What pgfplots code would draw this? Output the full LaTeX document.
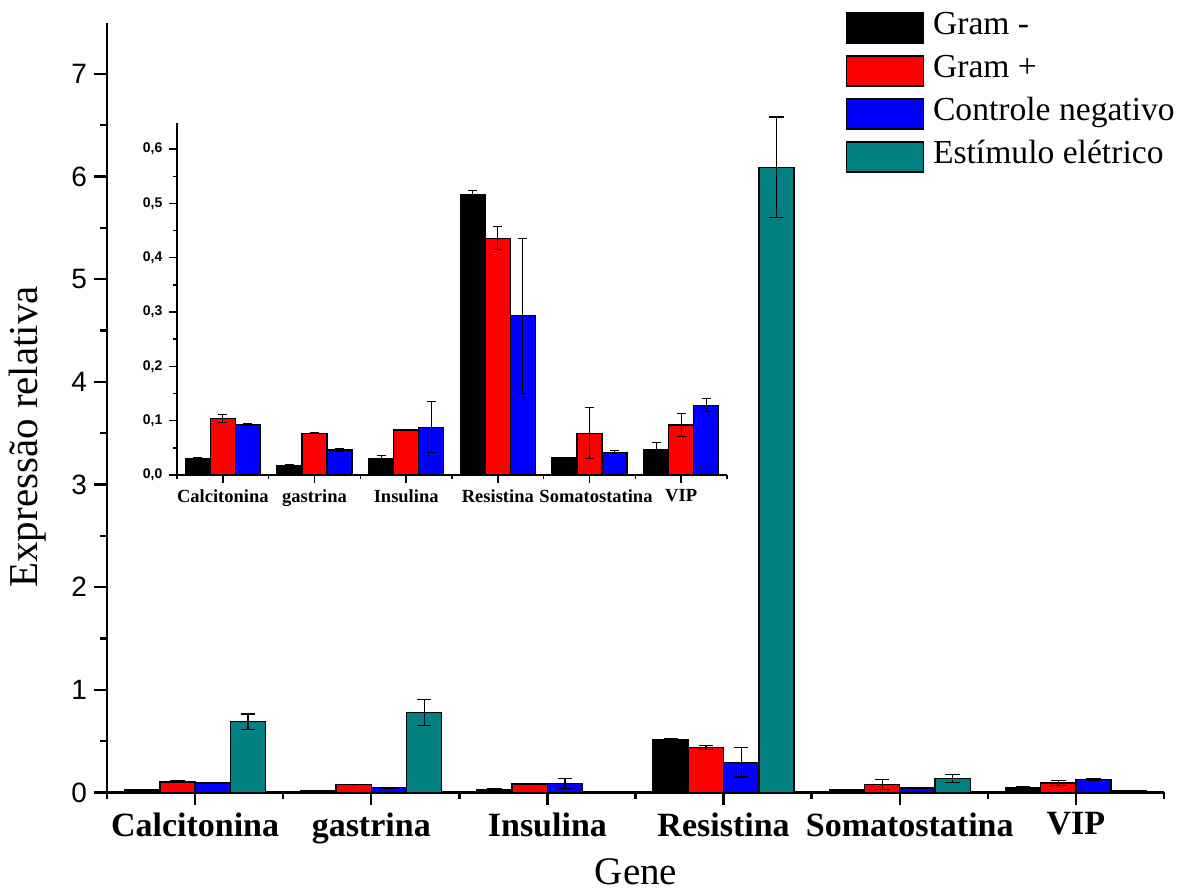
\documentclass[border=0pt]{standalone}
\usepackage{fontspec}
\setmainfont{Liberation Serif}
\newfontfamily\arial{Liberation Sans}
\usepackage{pgfplots}
\usepackage{pgfplotstable}
\pgfplotsset{compat=1.18}
\definecolor{tealE}{RGB}{0,128,128}
\pgfplotstableread{
x gn gne gp gpe cn cne es ese
0 0.030 0.002 0.104 0.007 0.093 0.002 0.690 0.075
1 0.018 0.001 0.077 0.001 0.046 0.002 0.780 0.125
2 0.031 0.005 0.083 0.001 0.088 0.047 0.010 0.000
3 0.516 0.008 0.436 0.021 0.293 0.143 6.090 0.490
4 0.032 0.001 0.077 0.047 0.042 0.003 0.134 0.040
5 0.047 0.012 0.092 0.021 0.128 0.012 0.015 0.000
}\data
\begin{document}
\begin{tikzpicture}
\useasboundingbox (-53.5pt,-49.75pt) rectangle (538pt,396.25pt);
\begin{axis}[
  at={(0,0)}, anchor=south west,
  scale only axis, width=528.5pt, height=385pt,
  xmin=-0.5, xmax=5.5, ymin=0, ymax=7.5,
  axis x line*=bottom, axis y line*=left,
  axis line style={line width=1.2pt},
  tick style={line width=1.2pt, black},
  tick align=outside,
  major tick length=6.5pt, minor tick length=3.5pt,
  xtick={0,...,5},
  xticklabels={Calcitonina,gastrina,Insulina,Resistina\hspace{3pt},\hspace{10pt}Somatostatina,VIP},
  minor xtick={-0.5,0.5,...,5.5},
  ytick={0,...,7}, minor y tick num=1,
  /pgf/number format/assume math mode=true,
  yticklabel style={font=\arial\fontsize{14}{14}\selectfont},
  xticklabel style={font=\bfseries\fontsize{17}{17}\selectfont},
  ylabel={Expressão relativa}, xlabel={Gene},
  ylabel style={at={(axis description cs:-0.0747,0.462)}, anchor=center, rotate=0, font=\fontsize{20.5}{20.5}\selectfont},
  xlabel style={at={(axis description cs:0.5005,-0.1025)}, anchor=center, font=\fontsize{19.5}{19.5}\selectfont},
  ybar, bar width=0.2,
  every axis plot/.append style={draw=black, line width=0.7pt},
  error bars/y dir=both, error bars/y explicit,
  error bars/error bar style={line width=0.6pt, black},
  error bars/error mark options={rotate=90, mark size=3.6pt, line width=0.6pt, black},
  legend image code/.code={\draw[#1, line width=0.6pt] (0pt,-7.5pt) rectangle (38.5pt,7.5pt);},
  legend style={at={(axis description cs:0.699,1.0132)}, anchor=north west, draw=none, fill=none,
    inner sep=0pt, outer sep=0pt, row sep=5.9pt,
    font=\fontsize{16.8}{16.8}\selectfont,
    nodes={inner sep=0pt, text height=11pt, text depth=4pt, anchor=west},
    /tikz/every odd column/.style={column sep=4.5pt}},
  legend cell align=left,
]
\addplot[fill=black, bar shift=-0.3] table[x=x, y=gn, y error=gne] {\data};
\addplot[fill=red, bar shift=-0.1] table[x=x, y=gp, y error=gpe] {\data};
\addplot[fill=blue, bar shift=0.1] table[x=x, y=cn, y error=cne] {\data};
\addplot[fill=tealE, bar shift=0.3] table[x=x, y=es, y error=ese] {\data};
\legend{Gram -, Gram +, Controle negativo, Estímulo elétrico}
\end{axis}
\begin{axis}[
  at={(35pt,158.75pt)}, anchor=south west,
  scale only axis, width=275pt, height=176pt,
  xmin=-0.5, xmax=5.5, ymin=0, ymax=0.648,
  axis x line*=bottom, axis y line*=left,
  axis line style={line width=0.7pt},
  tick style={line width=0.7pt, black},
  tick align=outside,
  major tick length=3.8pt, minor tick length=2pt,
  xtick={0,...,5},
  xticklabels={Calcitonina,gastrina,Insulina,Resistina\hspace{6.5pt},\hspace{6.5pt}Somatostatina,VIP},
  minor xtick={-0.5,0.5,...,5.5},
  ytick={0,0.1,...,0.6}, minor y tick num=1,
  /pgf/number format/.cd, fixed, fixed zerofill, precision=1, use comma, assume math mode=true,
  /pgfplots/.cd,
  yticklabel style={font=\arial\bfseries\fontsize{7}{7}\selectfont},
  xticklabel style={font=\bfseries\fontsize{9.25}{9.25}\selectfont},
  ybar, bar width=0.273,
  every axis plot/.append style={draw=black, line width=0.6pt},
  error bars/y dir=both, error bars/y explicit,
  error bars/error bar style={line width=0.5pt, black},
  error bars/error mark options={rotate=90, mark size=2.3pt, line width=0.5pt, black},
]
\addplot[fill=black, bar shift=-0.273] table[x=x, y=gn, y error=gne] {\data};
\addplot[fill=red, bar shift=0] table[x=x, y=gp, y error=gpe] {\data};
\addplot[fill=blue, bar shift=0.273] table[x=x, y=cn, y error=cne] {\data};
\end{axis}
\end{tikzpicture}
\end{document}
